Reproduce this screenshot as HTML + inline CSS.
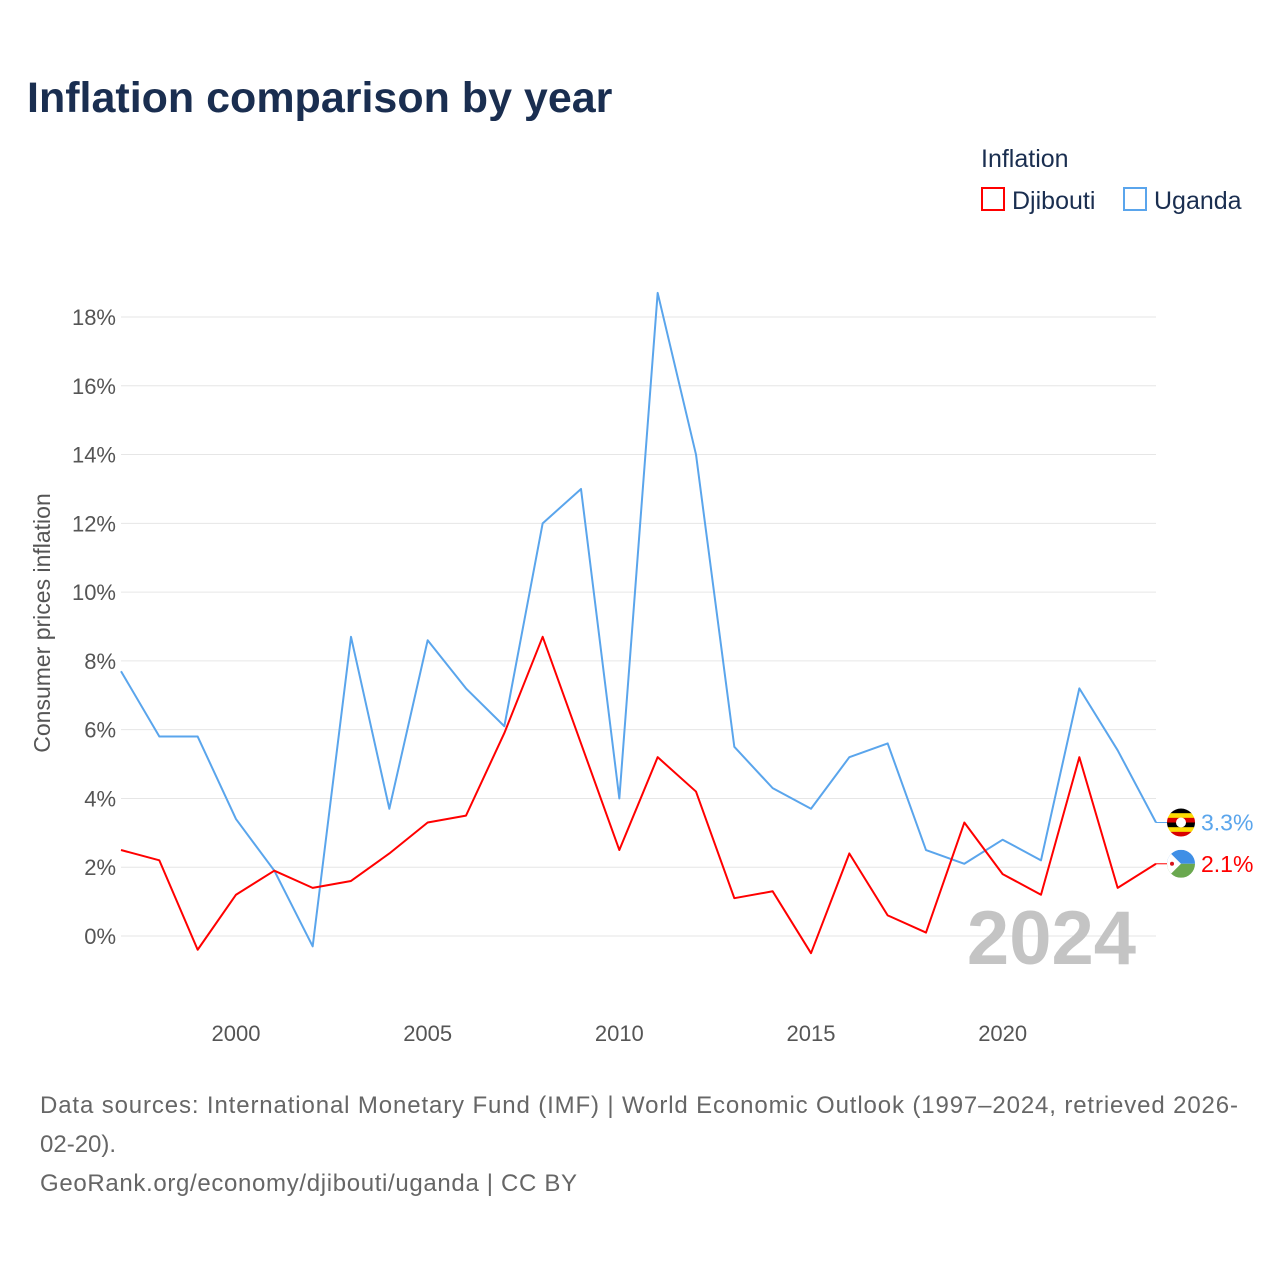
<!DOCTYPE html>
<html><head><meta charset="utf-8"><style>
body{margin:0;background:#fff;width:1280px;height:1280px;overflow:hidden;font-family:"Liberation Sans",sans-serif}
</style></head><body>
<svg width="1280" height="1280" id="chart" style="position:absolute;left:0;top:0">
<text x="27" y="112" font-size="43" font-weight="bold" fill="#1a2e50">Inflation comparison by year</text>
<text x="981" y="167" font-size="25" fill="#1a2e50">Inflation</text>
<g><rect x="982" y="188" width="22" height="22" fill="none" stroke="#ff0000" stroke-width="2"/><text x="1012" y="209" font-size="25" fill="#1a2e50">Djibouti</text></g>
<g><rect x="1124" y="188" width="22" height="22" fill="none" stroke="#5aa5ec" stroke-width="2"/><text x="1154" y="209" font-size="25" fill="#1a2e50">Uganda</text></g>
<text transform="translate(50,623) rotate(-90)" text-anchor="middle" font-size="23" fill="#555">Consumer prices inflation</text>
<g id="grid"></g><g id="yt"></g><g id="xt"></g>
<text x="1136" y="964" text-anchor="end" font-size="76" font-weight="bold" fill="#c4c4c4">2024</text>
<g id="lines"></g><g id="ends"></g>
<text x="40" y="1113" font-size="24" fill="#666" textLength="1198" lengthAdjust="spacing">Data sources: International Monetary Fund (IMF) | World Economic Outlook (1997–2024, retrieved 2026-</text>
<text x="40" y="1152" font-size="24" fill="#666">02-20).</text>
<text x="40" y="1191" font-size="24" fill="#666" textLength="537" lengthAdjust="spacing">GeoRank.org/economy/djibouti/uganda | CC BY</text>
</svg>
<script>
const years=[1997,1998,1999,2000,2001,2002,2003,2004,2005,2006,2007,2008,2009,2010,2011,2012,2013,2014,2015,2016,2017,2018,2019,2020,2021,2022,2023,2024];
const uganda=[7.7,5.8,5.8,3.4,1.9,-0.3,8.7,3.7,8.6,7.2,6.1,12.0,13.0,4.0,18.7,14.0,5.5,4.3,3.7,5.2,5.6,2.5,2.1,2.8,2.2,7.2,5.4,3.3];
const djibouti=[2.5,2.2,-0.4,1.2,1.9,1.4,1.6,2.4,3.3,3.5,5.9,8.7,5.6,2.5,5.2,4.2,1.1,1.3,-0.5,2.4,0.6,0.1,3.3,1.8,1.2,5.2,1.4,2.1];
const yTicks=[0,2,4,6,8,10,12,14,16,18];
const xTicks=[2000,2005,2010,2015,2020];
const NS="http://www.w3.org/2000/svg";
const X=y=>121+(y-1997)*(1156-121)/27;
const Y=v=>936-v*(936-317)/18;
function mk(t,a,p){const e=document.createElementNS(NS,t);for(const k in a)e.setAttribute(k,a[k]);document.getElementById(p).appendChild(e);return e;}
yTicks.forEach(v=>{
 const l=mk('line',{x1:121,x2:1156,y1:Y(v),y2:Y(v),stroke:'#e6e6e6','stroke-width':1},'grid');
 
 
 const t=mk('text',{x:116,y:Y(v)+8,'text-anchor':'end','font-size':22,fill:'#555'},'yt');t.textContent=v+'%';
 
 
});
xTicks.forEach(v=>{
 const t=mk('text',{x:X(v),y:1041,'text-anchor':'middle','font-size':22,fill:'#555'},'xt');t.textContent=v;
 
 
});
function line(d,c,n){
 const p=mk('polyline',{points:d.map((v,i)=>X(years[i])+','+Y(v)).join(' '),fill:'none',stroke:c,'stroke-width':2,'stroke-linejoin':'round'},'lines');
 
 
}
line(uganda,'#5aa5ec','uganda-line');
line(djibouti,'#ff0000','djibouti-line');
function end(d,c,n,flag){
 const v=d[d.length-1],y=Y(v),x=X(years[years.length-1]);
 mk('line',{x1:x,x2:x+12,y1:y,y2:y,stroke:c,'stroke-width':1},'ends');
 const g=mk('g',{},'ends');
 
 
 if(flag==='ug'){
  const cols=['#000','#fcdc04','#d90000','#000','#fcdc04','#d90000'];
  const cp=mk('clipPath',{id:'cu'},'ends');
  const c1=document.createElementNS(NS,'circle');c1.setAttribute('cx',1181);c1.setAttribute('cy',y);c1.setAttribute('r',14);cp.appendChild(c1);
  cols.forEach((cc,i)=>{mk('rect',{x:1167,y:y-14+i*14/3,width:28,height:14/3+0.5,fill:cc,'clip-path':'url(#cu)'},'ends');});
  mk('circle',{cx:1181,cy:y,r:5,fill:'#fff'},'ends');
 }else{
  const cp=mk('clipPath',{id:'cd'},'ends');
  const c1=document.createElementNS(NS,'circle');c1.setAttribute('cx',1181);c1.setAttribute('cy',y);c1.setAttribute('r',14);cp.appendChild(c1);
  mk('rect',{x:1167,y:y-14,width:28,height:14,fill:'#3f8fe6','clip-path':'url(#cd)'},'ends');
  mk('rect',{x:1167,y:y,width:28,height:14,fill:'#6aa84f','clip-path':'url(#cd)'},'ends');
  mk('polygon',{points:`1167,${y-14} 1167,${y+14} 1181,${y}`,fill:'#fff','clip-path':'url(#cd)'},'ends');
  mk('circle',{cx:1172,cy:y,r:2,fill:'#d7141a'},'ends');
 }
 const t=mk('text',{x:1201,y:y+8,'font-size':23,fill:c},'ends');t.textContent=v.toFixed(1)+'%';
 
 
}
end(uganda,'#5aa5ec','uganda','ug');
end(djibouti,'#ff0000','djibouti','dj');
</script>
</body></html>
